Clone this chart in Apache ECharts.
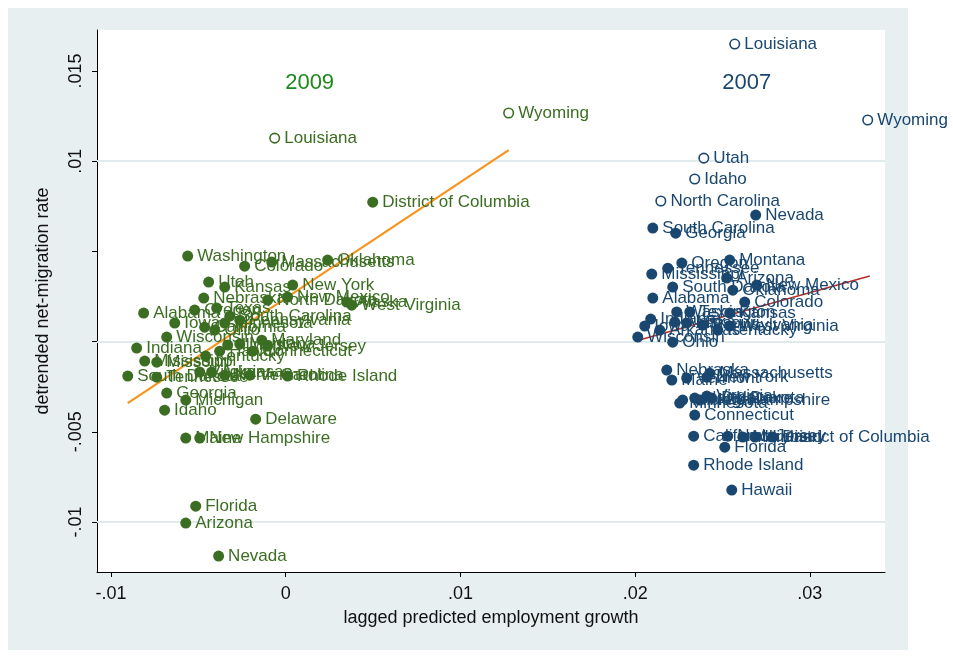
<!DOCTYPE html>
<html>
<head>
<meta charset="utf-8">
<script src="https://cdn.jsdelivr.net/npm/echarts@6/dist/echarts.min.js"></script>
<style>html,body{margin:0;padding:0;background:#fff}#c{width:953px;height:656px}</style>
</head>
<body>
<div id="c"></div>
<script>
// ---- data ----
const xTicks = [-0.01, 0, 0.01, 0.02, 0.03];
const xTickLabels = ['-.01', '0', '.01', '.02', '.03'];
const yTicks = [-0.01, -0.005, 0, 0.005, 0.01, 0.015];
const yTickLabels = ['-.01', '-.005', '', '', '.01', '.015'];

const states09 = ['Louisiana','Wyoming','District of Columbia','Washington','Colorado','Massachusetts','Oklahoma','Utah','Kansas','New York','Nebraska','North Dakota','New Mexico','Alaska','West Virginia','Alabama','Oregon','Iowa','California','Pennsylvania','Texas','South Carolina','Wisconsin','Indiana','Montana','Connecticut','Kentucky','Tennessee','Rhode Island','Georgia','Michigan','Idaho','Delaware','New Hampshire','Maine','Florida','Arizona','Nevada','South Dakota','Mississippi','Missouri','Virginia','Arkansas','North Carolina','Vermont','Ohio','Minnesota','Illinois','Maryland','New Jersey','Hawaii'];
const x09 = [-0.00063,0.01276,0.00498,-0.00561,-0.00235,-0.0008,0.0024,-0.00441,-0.00349,0.0004,-0.00469,-0.00103,0.00011,0.00349,0.00378,-0.00813,-0.00521,-0.00635,-0.00464,-0.00263,-0.00395,-0.0032,-0.00681,-0.00853,-0.00263,-0.00189,-0.00458,-0.00738,0.00011,-0.00681,-0.00572,-0.00693,-0.00172,-0.00492,-0.00572,-0.00515,-0.00572,-0.00384,-0.00904,-0.00807,-0.00738,-0.00492,-0.00424,-0.00349,-0.00206,-0.00406,-0.00349,-0.00332,-0.00137,-0.00103,-0.00378];
const y09 = [0.01128,0.01267,0.00773,0.00474,0.00418,0.00441,0.00452,0.0033,0.00302,0.00313,0.00241,0.0023,0.00247,0.00219,0.00202,0.00158,0.00175,0.00103,0.0008,0.00119,0.00186,0.00141,0.00025,-0.00036,-0.00014,-0.00053,-0.0008,-0.00197,-0.00191,-0.00285,-0.00324,-0.0038,-0.0043,-0.00535,-0.00535,-0.00912,-0.01006,-0.01189,-0.00191,-0.00108,-0.00114,-0.00169,-0.00169,-0.00186,-0.00186,0.00064,0.00103,-0.00019,0.00008,-0.00025,-0.00053];
const hollow09 = ['Louisiana','Wyoming'];

const states07 = ['Louisiana','Wyoming','Utah','Idaho','North Carolina','Nevada','South Carolina','Georgia','Oregon','Montana','Tennessee','Mississippi','Arizona','South Dakota','New Mexico','Alabama','Colorado','Oklahoma','Washington','Texas','Kansas','Indiana','Iowa','Wisconsin','Alaska','Missouri','Pennsylvania','West Virginia','Ohio','Nebraska','Maine','Vermont','Massachusetts','New York','Michigan','Minnesota','Virginia','North Dakota','New Hampshire','Connecticut','California','New Jersey','Maryland','Illinois','District of Columbia','Florida','Rhode Island','Hawaii','Arkansas','Kentucky','Delaware'];
const x07 = [0.0257,0.03331,0.02393,0.02341,0.02147,0.0269,0.02101,0.02232,0.02267,0.02541,0.02187,0.02095,0.02524,0.02215,0.02696,0.02101,0.02627,0.02559,0.02238,0.02313,0.02541,0.02089,0.02055,0.02015,0.02227,0.02295,0.02387,0.02541,0.02215,0.02181,0.0221,0.02295,0.02427,0.0241,0.02272,0.02255,0.0241,0.02341,0.0237,0.02341,0.02335,0.0253,0.02616,0.02685,0.02788,0.02513,0.02335,0.02553,0.02141,0.02473,0.02438];
const y07 = [0.01649,0.01228,0.01017,0.00901,0.00779,0.00701,0.00629,0.00601,0.00435,0.00452,0.00407,0.00374,0.00352,0.00302,0.00313,0.00241,0.00219,0.00285,0.00164,0.00164,0.00158,0.00125,0.00086,0.00025,0.00108,0.00103,0.00091,0.00086,-0.00003,-0.00158,-0.00213,-0.00202,-0.00175,-0.00197,-0.00324,-0.00341,-0.00302,-0.00313,-0.00324,-0.00407,-0.00524,-0.00524,-0.00529,-0.00529,-0.00529,-0.00585,-0.00685,-0.00823,0.00064,0.00064,-0.00313];
const hollow07 = ['Louisiana','Wyoming','Utah','Idaho','North Carolina'];

const fit09X = [-0.00904, 0.01276];
const fit09Y = [-0.00341, 0.01061];
const fit07X = [0.02003, 0.03343];
const fit07Y = [0.00003, 0.00363];

const yearLabels = ['2009', '2007'];
const yearX = [0.00137, 0.02639];
const yearY = [0.01433, 0.01433];

// ---- styles ----
const GREEN = '#3b6e22';
const NAVY = '#1a476f';
const YEAR_COLORS = ['#1e8a1e', '#1a476f'];
const FONT = '"Liberation Sans", Arial, sans-serif';

function pts(names, xs, ys, hollow, color) {
  return names.map((n, i) => {
    const h = hollow.indexOf(n) >= 0;
    return {
      name: n,
      value: [xs[i], ys[i]],
      symbolSize: h ? 9.5 : 11,
      itemStyle: h ? { color: '#ffffff', borderColor: color, borderWidth: 1.6, opacity: 1 } : { color: color, opacity: 1 }
    };
  });
}

const chart = echarts.init(document.getElementById('c'), null, { renderer: 'canvas' });
chart.setOption({
  backgroundColor: '#ffffff',
  animation: false,
  textStyle: { fontFamily: FONT },
  graphic: [{
    type: 'rect', z: -10, silent: true,
    shape: { x: 8, y: 8, width: 900, height: 642 },
    style: { fill: '#e8eff1' }
  }],
  grid: { left: 97, top: 30, right: 68, bottom: 84, show: true, backgroundColor: '#ffffff', borderWidth: 0 },
  xAxis: {
    type: 'value', min: -0.0108, max: 0.0343,
    name: 'lagged predicted employment growth', nameLocation: 'middle', nameGap: 37,
    nameTextStyle: { fontSize: 18, color: '#111', fontFamily: FONT },
    axisLine: { show: true, onZero: false, lineStyle: { color: '#000', width: 1 } },
    axisTick: { show: true, length: 5, customValues: xTicks, lineStyle: { color: '#000' } },
    axisLabel: { show: true, customValues: xTicks, fontSize: 18, color: '#111', margin: 13,
      formatter: v => { const i = xTicks.findIndex(t => Math.abs(t - v) < 1e-9); return i >= 0 ? xTickLabels[i] : ''; } },
    splitLine: { show: false }
  },
  yAxis: {
    type: 'value', min: -0.01277, max: 0.01727,
    name: 'detrended net-migration rate', nameLocation: 'middle', nameGap: 45, nameRotate: 90,
    nameTextStyle: { fontSize: 18, color: '#111', fontFamily: FONT },
    axisLine: { show: true, onZero: false, lineStyle: { color: '#000', width: 1 } },
    axisTick: { show: true, length: 5, customValues: yTicks, lineStyle: { color: '#000' } },
    axisLabel: { show: true, customValues: yTicks, fontSize: 18, color: '#111', rotate: 90, margin: 12,
      formatter: v => { const i = yTicks.findIndex(t => Math.abs(t - v) < 1e-9); return i >= 0 ? yTickLabels[i] : ''; } },
    splitLine: { show: false }
  },
  series: [
    {
      type: 'line', data: [], z: 1, silent: true,
      markLine: {
        z: 1, silent: true, symbol: 'none', label: { show: false },
        lineStyle: { color: '#e1eaed', width: 1.8, type: 'solid', opacity: 1 },
        data: yTicks.map(v => ({ yAxis: v }))
      }
    },
    {
      type: 'line', z: 3, symbol: 'none', silent: true,
      data: fit09X.map((x, i) => [x, fit09Y[i]]),
      lineStyle: { color: '#f7941d', width: 2.2, opacity: 1 }
    },
    {
      type: 'line', z: 3, symbol: 'none', silent: true,
      data: fit07X.map((x, i) => [x, fit07Y[i]]),
      lineStyle: { color: '#b5302a', width: 1.6, opacity: 1 }
    },
    {
      type: 'scatter', z: 4, symbol: 'circle',
      data: pts(states09, x09, y09, hollow09, GREEN),
      label: { show: true, position: 'right', distance: 4, formatter: p => p.name, fontSize: 17, color: GREEN, fontFamily: FONT }
    },
    {
      type: 'scatter', z: 4, symbol: 'circle',
      data: pts(states07, x07, y07, hollow07, NAVY),
      label: { show: true, position: 'right', distance: 4, formatter: p => p.name, fontSize: 17, color: NAVY, fontFamily: FONT }
    },
    {
      type: 'scatter', z: 5, symbolSize: 0, silent: true,
      itemStyle: { opacity: 1 },
      data: yearLabels.map((t, i) => ({
        name: t, value: [yearX[i], yearY[i]],
        itemStyle: { opacity: 1, color: YEAR_COLORS[i] },
        label: { color: YEAR_COLORS[i], opacity: 1 }
      })),
      label: { show: true, position: 'inside', formatter: p => p.name, fontSize: 22, fontFamily: FONT }
    }
  ]
});
</script>
</body>
</html>
